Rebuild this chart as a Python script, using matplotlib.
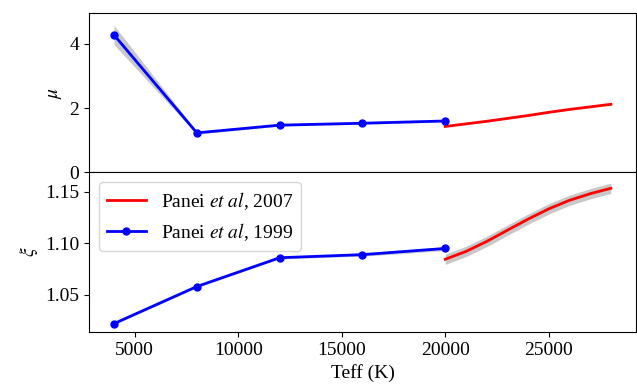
import numpy as np
import matplotlib
matplotlib.use('Agg')
from matplotlib import pyplot as plt

plt.rcParams['font.family'] = ['Liberation Serif', 'DejaVu Serif']
plt.rcParams['mathtext.fontset'] = 'stix'
plt.rcParams['font.size'] = 14

#------------ data -----------------------
teff_99 = [4000, 8000, 12000, 16000, 20000]
mu_99 = [4.28, 1.23, 1.47, 1.53, 1.60]
mu_99_err = [0.30, 0.04, 0.03, 0.03, 0.03]
xi_99 = [1.022, 1.058, 1.086, 1.089, 1.095]
xi_99_err = [0.001, 0.001, 0.001, 0.0015, 0.002]

teff_07 = [20000, 21000, 22000, 23000, 24000, 25000, 26000, 27000, 28000]
mu_07 = [1.43, 1.51, 1.59, 1.68, 1.77, 1.87, 1.96, 2.04, 2.12]
mu_07_err = [0.02, 0.02, 0.02, 0.02, 0.02, 0.02, 0.02, 0.02, 0.02]
xi_07 = [1.0845, 1.0921, 1.1018, 1.1127, 1.1235, 1.1335, 1.1418, 1.1482, 1.1535]
xi_07_err = [0.005, 0.005, 0.005, 0.005, 0.005, 0.005, 0.005, 0.005, 0.005]

#------------ plot -----------------------
fig, (ax1, ax2) = plt.subplots(2, 1, sharex=True, figsize=(6.37, 3.89), dpi=100)
fig.subplots_adjust(left=0.14, right=0.998, top=0.967, bottom=0.147, hspace=0)

def band(ax, x, y, e):
  y, e = np.array(y), np.array(e)
  ax.fill_between(x, y-e, y+e, color='#c8c8c8', lw=0)

band(ax1, teff_99, mu_99, mu_99_err)
band(ax1, teff_07, mu_07, mu_07_err)
ax1.plot(teff_07, mu_07, color='red', lw=2)
ax1.plot(teff_99, mu_99, color='blue', lw=2, marker='o', ms=5)
ax1.set_ylim(0, 4.97)
ax1.set_yticks([0, 2, 4])
ax1.set_ylabel(r'$\mu$')

band(ax2, teff_99, xi_99, xi_99_err)
band(ax2, teff_07, xi_07, xi_07_err)
ax2.plot(teff_07, xi_07, color='red', lw=2, label=r'Panei $\it{et\ al}$, 2007')
ax2.plot(teff_99, xi_99, color='blue', lw=2, marker='o', ms=5,
         label=r'Panei $\it{et\ al}$, 1999')
ax2.set_ylim(1.014, 1.169)
ax2.set_yticks([1.05, 1.10, 1.15])
ax2.set_ylabel(r'$\xi$')
ax2.set_xlabel('Teff (K)')
ax2.set_xticks([5000, 10000, 15000, 20000, 25000])
ax2.legend(loc='upper left')

fig.savefig('out.png')
